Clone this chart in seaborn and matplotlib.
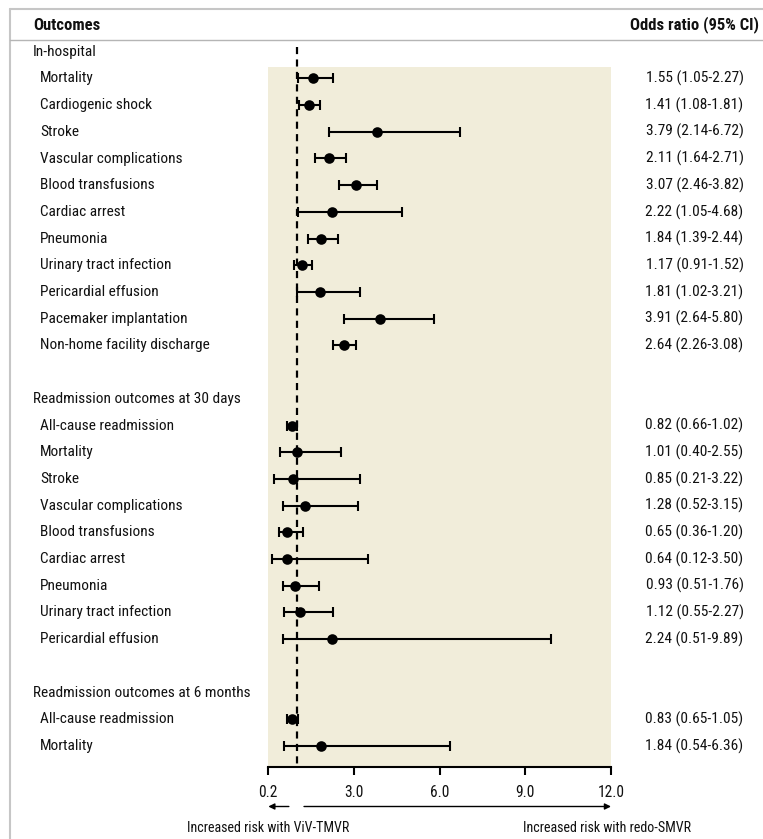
import matplotlib
matplotlib.use("Agg")
import matplotlib.pyplot as plt
from matplotlib import font_manager as fm
from matplotlib import transforms
from matplotlib.lines import Line2D
import seaborn as sns
import pandas as pd
import numpy as np

# ---------------- data ----------------
group_names = ["In-hospital",
               "Readmission outcomes at 30 days",
               "Readmission outcomes at 6 months"]

inhosp_outcomes = ["Mortality", "Cardiogenic shock", "Stroke", "Vascular complications",
                   "Blood transfusions", "Cardiac arrest", "Pneumonia",
                   "Urinary tract infection", "Pericardial effusion",
                   "Pacemaker implantation", "Non-home facility discharge"]
inhosp_or = [1.55, 1.41, 3.79, 2.11, 3.07, 2.22, 1.84, 1.17, 1.81, 3.91, 2.64]
inhosp_lo = [1.05, 1.08, 2.14, 1.64, 2.46, 1.05, 1.39, 0.91, 1.02, 2.64, 2.26]
inhosp_hi = [2.27, 1.81, 6.72, 2.71, 3.82, 4.68, 2.44, 1.52, 3.21, 5.80, 3.08]

d30_outcomes = ["All-cause readmission", "Mortality", "Stroke", "Vascular complications",
                "Blood transfusions", "Cardiac arrest", "Pneumonia",
                "Urinary tract infection", "Pericardial effusion"]
d30_or = [0.82, 1.01, 0.85, 1.28, 0.65, 0.64, 0.93, 1.12, 2.24]
d30_lo = [0.66, 0.40, 0.21, 0.52, 0.36, 0.12, 0.51, 0.55, 0.51]
d30_hi = [1.02, 2.55, 3.22, 3.15, 1.20, 3.50, 1.76, 2.27, 9.89]

m6_outcomes = ["All-cause readmission", "Mortality"]
m6_or = [0.83, 1.84]
m6_lo = [0.65, 0.54]
m6_hi = [1.05, 6.36]

tick_values = [0, 3, 6, 9, 12]
tick_labels = ["0.2", "3.0", "6.0", "9.0", "12.0"]
null_value = 1.0

header_left = "Outcomes"
header_right = "Odds ratio (95% CI)"
left_note = "Increased risk with ViV-TMVR"
right_note = "Increased risk with redo-SMVR"

# ---------------- build table ----------------
rows = []
blocks = [(inhosp_outcomes, inhosp_or, inhosp_lo, inhosp_hi),
          (d30_outcomes, d30_or, d30_lo, d30_hi),
          (m6_outcomes, m6_or, m6_lo, m6_hi)]
r = 0
group_rows = []
for gi, (names, ors, los, his) in enumerate(blocks):
    group_rows.append((r, group_names[gi]))
    r += 1
    for n, o, l, h in zip(names, ors, los, his):
        rows.append(dict(row=r, outcome=n, OR=o, lo=l, hi=h))
        r += 1
    r += 1  # blank row
df = pd.DataFrame(rows)

# ---------------- style ----------------
sns.set_theme(style="white")
avail = {f.name for f in fm.fontManager.ttflist}
family = "DejaVu Sans"
for cand in ["Liberation Sans Narrow", "Roboto Condensed", "Noto Sans Condensed",
             "Open Sans Condensed", "DejaVu Sans Condensed"]:
    if cand in avail:
        family = cand
        break
plt.rcParams["font.family"] = [family, "DejaVu Sans"]
if family == "DejaVu Sans":
    plt.rcParams["font.stretch"] = "condensed"

W, H = 763, 839
fig = plt.figure(figsize=(W / 100, H / 100), dpi=100)
fig.patch.set_facecolor("white")

ax_left, ax_right = 268.3, 611.0
ax_top, ax_bottom = 41.0, 767.0
ax = fig.add_axes([ax_left / W, 1 - ax_bottom / H,
                   (ax_right - ax_left) / W, (ax_bottom - ax_top) / H])
ax.patch.set_alpha(0)

row0_px, row_step = 51.7, 26.7
def px2row(py):
    return (py - row0_px) / row_step

y_bottom = px2row(ax_bottom)
y_top = px2row(ax_top)

beige = "#f1edda"
ax.axhspan(px2row(66.7), y_bottom, color=beige, zorder=0, lw=0)

ax.vlines(null_value, px2row(47), y_bottom, colors="black", lw=1.6,
          linestyles=(0, (3.2, 2.4)), zorder=2)

ax.errorbar(df["OR"], df["row"],
            xerr=[df["OR"] - df["lo"], df["hi"] - df["OR"]],
            fmt="none", ecolor="black", elinewidth=1.5, capsize=3.3,
            capthick=1.5, zorder=3)
sns.scatterplot(data=df, x="OR", y="row", ax=ax, color="black", s=58,
                edgecolor="black", linewidth=0, zorder=4, legend=False)

ax.set_xlim(tick_values[0], tick_values[-1])
ax.set_ylim(y_bottom, y_top)
ax.set_xticks(tick_values)
ax.set_xticklabels(tick_labels, fontsize=11.2, color="#111111")
ax.set_yticks([])
ax.set_xlabel("")
ax.set_ylabel("")
for s in ["top", "left", "right"]:
    ax.spines[s].set_visible(False)
ax.spines["bottom"].set_color("black")
ax.spines["bottom"].set_linewidth(1.5)
ax.tick_params(axis="x", direction="out", length=6, width=1.5, color="black",
               pad=7, bottom=True)

# ---------------- texts ----------------
trans = transforms.blended_transform_factory(fig.transFigure, ax.transData)
txt_size = 11.1
for gr, gname in group_rows:
    ax.text(33 / W, gr, gname, transform=trans, ha="left", va="center",
            fontsize=txt_size, color="#111111")
for _, rw in df.iterrows():
    ax.text(40 / W, rw["row"], rw["outcome"], transform=trans, ha="left",
            va="center", fontsize=txt_size, color="#111111")
    ax.text(694.5 / W, rw["row"], f"{rw['OR']:.2f} ({rw['lo']:.2f}-{rw['hi']:.2f})",
            transform=trans, ha="center", va="center", fontsize=txt_size,
            color="#111111")

fig.text(33 / W, 1 - 25 / H, header_left, ha="left", va="center",
         fontsize=12, fontweight="bold", color="#111111")
fig.text(759 / W, 1 - 25 / H, header_right, ha="right", va="center",
         fontsize=12, fontweight="bold", color="#111111")

# arrows and direction notes
arrow_y = px2row(806.5)
ax.annotate("", xy=(0, arrow_y), xytext=(0.72, arrow_y), xycoords="data",
            annotation_clip=False,
            arrowprops=dict(arrowstyle="-|>", color="black", lw=1.0,
                            mutation_scale=9, shrinkA=0, shrinkB=0))
ax.annotate("", xy=(12, arrow_y), xytext=(1.25, arrow_y), xycoords="data",
            annotation_clip=False,
            arrowprops=dict(arrowstyle="-|>", color="black", lw=1.0,
                            mutation_scale=9, shrinkA=0, shrinkB=0))
note_y = px2row(827.5)
ax.text(0, note_y, left_note, ha="center", va="center", fontsize=10.1,
        color="#111111", clip_on=False)
ax.text(11.85, note_y, right_note, ha="center", va="center", fontsize=10.1,
        color="#111111", clip_on=False)

# frame lines
border = "#c6c6c6"
fig.add_artist(Line2D([10 / W, 1], [1 - 9 / H, 1 - 9 / H], transform=fig.transFigure,
                      color=border, lw=1.5))
fig.add_artist(Line2D([10 / W, 10 / W], [0, 1 - 9 / H], transform=fig.transFigure,
                      color=border, lw=1.5))
fig.add_artist(Line2D([10 / W, 1], [1 - 40 / H, 1 - 40 / H], transform=fig.transFigure,
                      color="#b5b5b5", lw=1.0))

fig.savefig("out.png", dpi=100, facecolor="white")
